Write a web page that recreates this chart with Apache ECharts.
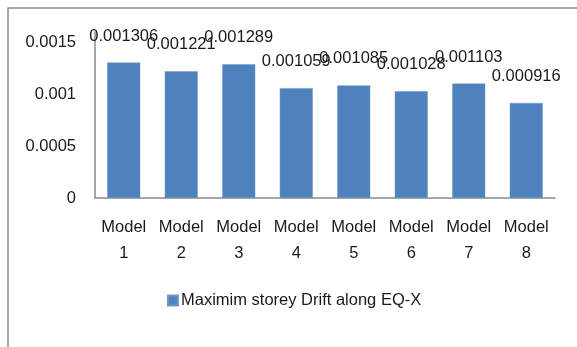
<!DOCTYPE html>
<html>
<head>
<meta charset="utf-8">
<script src="https://cdn.jsdelivr.net/npm/echarts@6/dist/echarts.min.js"></script>
<style>
  html, body { margin: 0; padding: 0; background: #fff; }
  #chart { width: 577px; height: 347px; }
</style>
</head>
<body>
<div id="chart"></div>
<script>
// Maximum storey drift per model, EQ-X direction
const categories = ['Model\n1', 'Model\n2', 'Model\n3', 'Model\n4', 'Model\n5', 'Model\n6', 'Model\n7', 'Model\n8'];
const driftValues = [0.001306, 0.001221, 0.001289, 0.001059, 0.001085, 0.001028, 0.001103, 0.000916];
const yTicks = [0, 0.0005, 0.001, 0.0015];
const seriesName = 'Maximim storey Drift along EQ-X';

const FONT = 'Liberation Sans';
const chart = echarts.init(document.getElementById('chart'), null, { renderer: 'canvas' });

chart.setOption({
  animation: false,
  backgroundColor: '#ffffff',
  textStyle: { fontFamily: FONT },
  graphic: [{
    type: 'rect',
    shape: { x: 8, y: 8, width: 600, height: 400 },
    style: { fill: 'none', stroke: '#8a8a8a', lineWidth: 1.5 },
    silent: true
  }],
  grid: { left: 95, right: 22, top: 32, bottom: 149 },
  legend: {
    data: [seriesName],
    left: 162,
    top: 287,
    itemWidth: 10,
    itemHeight: 10,
    itemGap: 4,
    icon: 'rect',
    textStyle: { fontFamily: FONT, fontSize: 16.5, color: '#1a1a1a', padding: [0, 0, 0, -2] }
  },
  xAxis: {
    type: 'category',
    data: categories,
    axisLine: { lineStyle: { color: '#8a8a8a', width: 1.5 } },
    axisTick: { show: false },
    axisLabel: {
      interval: 0,
      margin: 16,
      fontFamily: FONT,
      fontSize: 16.5,
      lineHeight: 26,
      color: '#1a1a1a'
    }
  },
  yAxis: {
    type: 'value',
    min: 0,
    max: 0.0016,
    interval: 0.0005,
    axisLine: { show: true, lineStyle: { color: '#8a8a8a', width: 1.5 } },
    axisTick: { show: false },
    splitLine: { show: false },
    axisLabel: {
      margin: 19,
      fontFamily: FONT,
      fontSize: 16.5,
      color: '#1a1a1a',
      formatter: function (v) {
        const hit = yTicks.find(t => Math.abs(t - v) < 1e-9);
        return hit === undefined ? '' : String(hit);
      }
    }
  },
  series: [{
    name: seriesName,
    type: 'bar',
    data: driftValues,
    barWidth: 33,
    itemStyle: { color: '#4f81bd', borderColor: '#6f97c8', borderWidth: 0.5 },
    label: {
      show: true,
      position: 'top',
      distance: 18,
      fontFamily: FONT,
      fontSize: 16.5,
      color: '#1a1a1a',
      formatter: function (p) { return p.value.toFixed(6); }
    }
  }]
});
</script>
</body>
</html>
